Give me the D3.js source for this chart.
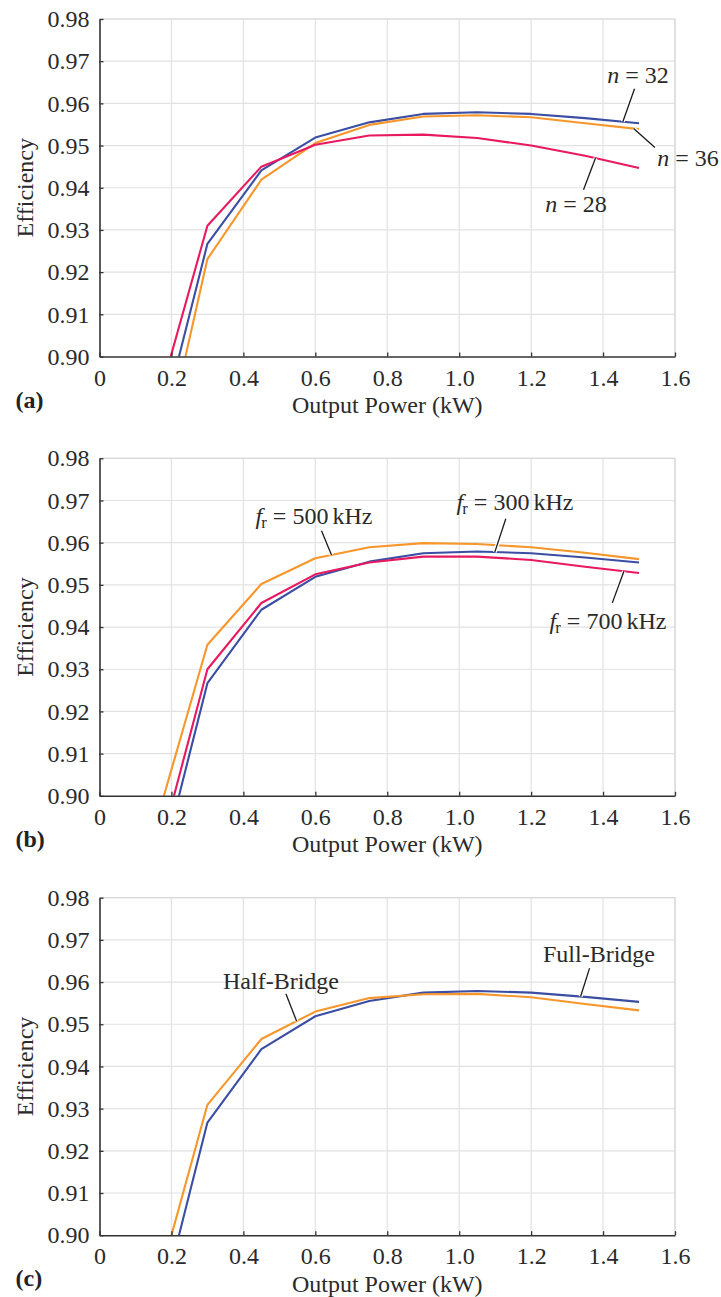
<!DOCTYPE html>
<html>
<head>
<meta charset="utf-8">
<script src="https://cdn.jsdelivr.net/npm/d3@7"></script>
<style>
  html, body { margin: 0; padding: 0; background: #fff; }
  svg { display: block; }
  svg text { font-family: "Liberation Serif", "Times New Roman", serif; }
</style>
</head>
<body>
<svg id="chart" width="721" height="1297"></svg>
<script>
// Output power sample points (kW)
const powerKW = [0.15, 0.3, 0.45, 0.6, 0.75, 0.9, 1.05, 1.2, 1.35, 1.5];

// Baseline design: n = 32, f_r = 300 kHz, full-bridge
const effBaseline = [0.876, 0.9267, 0.9441, 0.9519, 0.9555, 0.9575, 0.9579, 0.9575, 0.9565, 0.9553];
// (a) turns ratio variants
const effN28 = [0.8854, 0.9310, 0.9450, 0.9502, 0.9524, 0.9526, 0.9518, 0.9500, 0.9476, 0.9447];
const effN36 = [0.8663, 0.9231, 0.9419, 0.9506, 0.9549, 0.9569, 0.9572, 0.9567, 0.9553, 0.9539];
// (b) resonant frequency variants
const effFr500 = [0.8914, 0.9358, 0.9502, 0.9563, 0.9589, 0.9599, 0.9597, 0.9589, 0.9576, 0.9561];
const effFr700 = [0.8816, 0.9300, 0.9457, 0.9525, 0.9553, 0.9567, 0.9567, 0.9559, 0.9543, 0.9528];
// (c) half-bridge variant
const effHalfBridge = [0.8845, 0.9309, 0.9465, 0.9530, 0.9562, 0.9571, 0.9572, 0.9564, 0.9548, 0.9533];

// Axis ticks
const xTicks = [0, 0.2, 0.4, 0.6, 0.8, 1.0, 1.2, 1.4, 1.6];
const yTicks = [0.90, 0.91, 0.92, 0.93, 0.94, 0.95, 0.96, 0.97, 0.98];
const panelTags = ["a", "b", "c"];

const C_BLUE = "#3b4ea3", C_ORANGE = "#f7962b", C_PINK = "#e8195e";

const panels = [
  {
    tag: "a", top: 19,
    series: [
      { values: effBaseline, color: C_BLUE },
      { values: effN36, color: C_ORANGE },
      { values: effN28, color: C_PINK }
    ],
    notes: [
      { on: 0, at: 1.455, dx: 11.7, dy: -33, parts: [["n", "i"], ["=", "op"], ["32", ""]], tx: 638, ty: 82.7 - 19 },
      { on: 1, at: 1.485, dx: 21.3, dy: 19, parts: [["n", "i"], ["=", "op"], ["36", ""]], tx: 688, ty: 165.7 - 19 },
      { on: 2, at: 1.379, dx: -12, dy: 31.7, parts: [["n", "i"], ["=", "op"], ["28", ""]], tx: 576, ty: 212.3 - 19 }
    ]
  },
  {
    tag: "b", top: 458.3,
    series: [
      { values: effBaseline, color: C_BLUE },
      { values: effFr500, color: C_ORANGE },
      { values: effFr700, color: C_PINK }
    ],
    notes: [
      { on: 1, at: 0.645, dx: -10, dy: -24.3, parts: [["f", "i"], ["r", "sub"], ["=", "op"], ["500", ""], ["kHz", "unit"]], tx: 314, ty: 524 - 458.3 },
      { on: 0, at: 1.099, dx: 11, dy: -33.4, parts: [["f", "i"], ["r", "sub"], ["=", "op"], ["300", ""], ["kHz", "unit"]], tx: 515, ty: 510 - 458.3 },
      { on: 2, at: 1.458, dx: -11.6, dy: 31.6, parts: [["f", "i"], ["r", "sub"], ["=", "op"], ["700", ""], ["kHz", "unit"]], tx: 608, ty: 629.3 - 458.3 }
    ]
  },
  {
    tag: "c", top: 897.7,
    series: [
      { values: effBaseline, color: C_BLUE },
      { values: effHalfBridge, color: C_ORANGE }
    ],
    notes: [
      { on: 1, at: 0.548, dx: -10.7, dy: -27.3, parts: [["Half-Bridge", ""]], tx: 281, ty: 989 - 897.7 },
      { on: 0, at: 1.3375, dx: 9, dy: -28.4, parts: [["Full-Bridge", ""]], tx: 599, ty: 961.7 - 897.7 }
    ]
  }
];

const left = 99.5, right = 675, plotH = 337.5;
const FS = 24;
const FONT = "'Liberation Serif', 'Times New Roman', serif";
const INK = "#2a2a2a";

const svg = d3.select("#chart");
const x = d3.scaleLinear().domain([0, 1.6]).range([0, right - left]);
const y = d3.scaleLinear().domain([0.90, 0.98]).range([plotH, 0]);

// Linear interpolation of a series at a given power, used to place leader lines on the curve
function valueAt(values, p) {
  for (let i = 0; i < powerKW.length - 1; i++) {
    if (p >= powerKW[i] && p <= powerKW[i + 1]) {
      const t = (p - powerKW[i]) / (powerKW[i + 1] - powerKW[i]);
      return values[i] + t * (values[i + 1] - values[i]);
    }
  }
  return values[values.length - 1];
}

panels.forEach((pd, k) => {
  const g = svg.append("g").attr("transform", `translate(${left},${pd.top})`);
  const clipId = "clip-" + pd.tag;
  svg.append("clipPath").attr("id", clipId)
    .append("rect").attr("x", 0).attr("y", 0).attr("width", right - left).attr("height", plotH);

  // grid
  g.append("g").selectAll("line").data(xTicks.slice(1)).join("line")
    .attr("x1", d => x(d)).attr("x2", d => x(d)).attr("y1", 0).attr("y2", plotH)
    .attr("stroke", "#e2e2e2").attr("stroke-width", 1.2);
  g.append("g").selectAll("line").data(yTicks.slice(1)).join("line")
    .attr("x1", 0).attr("x2", right - left).attr("y1", d => y(d)).attr("y2", d => y(d))
    .attr("stroke", "#e2e2e2").attr("stroke-width", 1.2);
  // light box on top/right
  g.append("path").attr("d", `M0,0H${right - left}V${plotH}`)
    .attr("fill", "none").attr("stroke", "#d8d8d8").attr("stroke-width", 1.2);

  // series
  const line = d3.line().x((d, i) => x(powerKW[i])).y(d => y(d));
  const lg = g.append("g").attr("clip-path", `url(#${clipId})`);
  pd.series.forEach(s => {
    lg.append("path").attr("d", line(s.values))
      .attr("fill", "none").attr("stroke", s.color).attr("stroke-width", 2.1)
      .attr("stroke-linejoin", "round");
  });

  // axes
  const xAxis = d3.axisBottom(x).tickValues(xTicks).tickSizeInner(-4).tickSizeOuter(0)
    .tickPadding(12).tickFormat(d => d === 0 ? "0" : d3.format(".1f")(d));
  const yAxis = d3.axisLeft(y).tickValues(yTicks).tickSizeInner(-4).tickSizeOuter(0)
    .tickPadding(10).tickFormat(d3.format(".2f"));
  const gx = g.append("g").attr("transform", `translate(0,${plotH})`).call(xAxis);
  const gy = g.append("g").call(yAxis);
  [gx, gy].forEach(a => {
    a.attr("font-family", FONT).attr("font-size", FS);
    a.select(".domain").attr("stroke", "#333").attr("stroke-width", 1.6);
    a.selectAll(".tick line").attr("stroke", "#333").attr("stroke-width", 1.3);
    a.selectAll(".tick text").attr("fill", INK);
  });

  // axis titles
  g.append("text").attr("x", (right - left) / 2).attr("y", plotH + 56.5)
    .attr("text-anchor", "middle").attr("fill", INK)
    .attr("font-family", FONT).attr("font-size", FS)
    .text("Output Power (kW)");
  g.append("text").attr("transform", `translate(${33 - left},${plotH / 2}) rotate(-90)`)
    .attr("text-anchor", "middle").attr("fill", INK)
    .attr("font-family", FONT).attr("font-size", FS)
    .text("Efficiency");
  // panel tag
  svg.append("text").attr("x", 15.5).attr("y", pd.top + plotH + 51)
    .attr("fill", "#222").attr("font-family", FONT).attr("font-size", FS).attr("font-weight", "bold")
    .text(`(${panelTags[k]})`);

  // annotations with leader lines
  pd.notes.forEach(n => {
    const s = pd.series[n.on];
    const px = x(n.at), py = y(valueAt(s.values, n.at));
    g.append("line").attr("x1", px).attr("y1", py).attr("x2", px + n.dx).attr("y2", py + n.dy)
      .attr("stroke", "#fff").attr("stroke-width", 4);
    g.append("line").attr("x1", px).attr("y1", py).attr("x2", px + n.dx).attr("y2", py + n.dy)
      .attr("stroke", "#1a1a1a").attr("stroke-width", 1.3);
    const t = g.append("text").attr("x", n.tx - left).attr("y", n.ty)
      .attr("text-anchor", "middle").attr("fill", INK)
      .attr("font-family", FONT).attr("font-size", FS);
    const hasSub = n.parts.some(p => p[1] === "sub");
    n.parts.forEach(([str, kind]) => {
      const ts = t.append("tspan").text(str);
      if (kind === "i") ts.attr("font-style", "italic");
      if (kind === "sub") ts.attr("font-size", FS * 0.7).attr("dy", 4).attr("dx", -1);
      if (kind === "op") ts.attr("dx", 6).attr("dy", hasSub ? -4 : 0);
      if (kind === "" && /^\d/.test(str)) ts.attr("dx", 6);
      if (kind === "unit") ts.attr("dx", 4);
    });
  });
});
</script>
</body>
</html>
